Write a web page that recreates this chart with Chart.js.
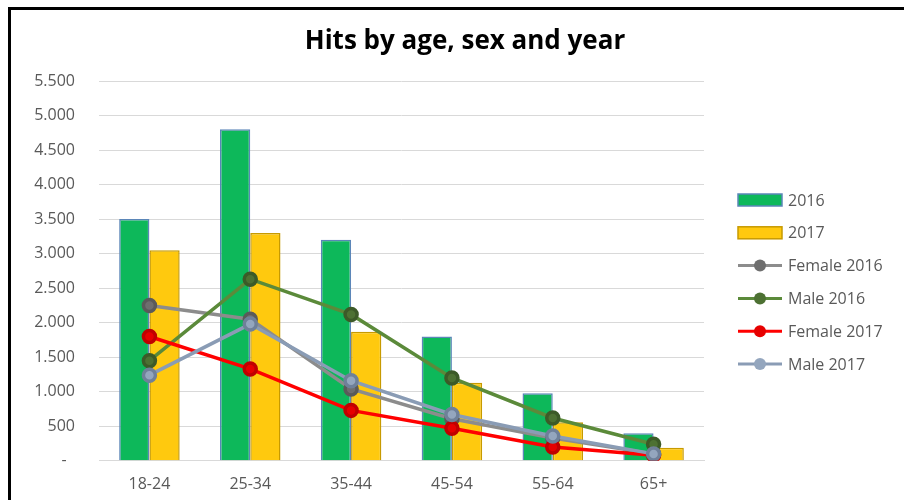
<!DOCTYPE html>
<html>
<head>
<meta charset="utf-8">
<script src="https://cdn.jsdelivr.net/npm/chart.js@4.4.1/dist/chart.umd.min.js"></script>
<style>
  body { margin: 0; background: #fff; overflow: hidden; }
  #moldura { position: absolute; left: 8px; top: 7px; width: 910px; height: 510px; border: 3px solid #000; background: #fff; }
  #grafico { position: absolute; left: 11px; top: 10px; }
</style>
</head>
<body>
<div id="moldura"></div>
<canvas id="grafico" width="893" height="498"></canvas>
<script>
    const faixas = ['18-24', '25-34', '35-44', '45-54', '55-64', '65+'];
    const total_2016 = [3500, 4800, 3200, 1800, 980, 400];
    const total_2017 = [3050, 3300, 1870, 1130, 560, 190];
    const feminino_2016 = [2250, 2050, 1040, 610, 330, 100];
    const masculino_2016 = [1450, 2630, 2120, 1200, 620, 240];
    const feminino_2017 = [1800, 1330, 730, 470, 200, 80];
    const masculino_2017 = [1240, 1980, 1160, 670, 360, 100];
    const ticks_y = [0, 500, 1000, 1500, 2000, 2500, 3000, 3500, 4000, 4500, 5000, 5500];
    const titulo = 'Hits by age, sex and year';

    const fonte = "'Open Sans', 'Liberation Sans', sans-serif";

    // titulo e legenda desenhados na mao
    const legendaManual = {
        id: 'legendaManual',
        afterDraw(chart) {
            const ctx = chart.ctx;
            ctx.save();
            ctx.fillStyle = '#000';
            ctx.font = "bold 26px " + fonte;
            ctx.textAlign = 'center';
            ctx.textBaseline = 'middle';
            ctx.fillText(titulo, 454, 32);
            ctx.restore();

            const x0 = chart.chartArea.right + 34;
            let y = 190;
            chart.data.datasets.forEach(ds => {
                ctx.save();
                if (ds.type === 'bar') {
                    ctx.fillStyle = ds.backgroundColor;
                    ctx.fillRect(x0, y - 6, 44, 12);
                    ctx.strokeStyle = ds.borderColor;
                    ctx.lineWidth = 1.5;
                    ctx.strokeRect(x0, y - 6, 44, 12);
                } else {
                    ctx.strokeStyle = ds.borderColor;
                    ctx.lineWidth = 3;
                    ctx.beginPath();
                    ctx.moveTo(x0, y);
                    ctx.lineTo(x0 + 44, y);
                    ctx.stroke();
                    ctx.fillStyle = ds.pointBackgroundColor;
                    ctx.beginPath();
                    ctx.arc(x0 + 22, y, 6, 0, Math.PI * 2);
                    ctx.fill();
                }
                ctx.fillStyle = '#595959';
                ctx.font = "16px " + fonte;
                ctx.textBaseline = 'middle';
                ctx.fillText(ds.label, x0 + 50, y + 1);
                ctx.restore();
                y += 32.8;
            });
        }
    };

    const ctx_grafico = document.getElementById('grafico');

    new Chart(ctx_grafico, {
        data: {
            labels: faixas,
            datasets: [{
                type: 'bar',
                label: '2016',
                data: total_2016,
                backgroundColor: '#0DB85A',
                borderColor: '#5B86B8',
                borderWidth: 1.5,
                order: 5
            }, {
                type: 'bar',
                label: '2017',
                data: total_2017,
                backgroundColor: '#FFC90E',
                borderColor: '#C79A00',
                borderWidth: 1.5,
                order: 6
            }, {
                type: 'line',
                label: 'Female 2016',
                data: feminino_2016,
                borderColor: '#8C8C8C',
                pointBackgroundColor: '#6E6E6E',
                pointBorderColor: '#5A5A5A',
                borderWidth: 3.5,
                pointRadius: 6,
                order: 4
            }, {
                type: 'line',
                label: 'Male 2016',
                data: masculino_2016,
                borderColor: '#5B8A3A',
                pointBackgroundColor: '#4D7133',
                pointBorderColor: '#3C5A28',
                borderWidth: 3.5,
                pointRadius: 6,
                order: 3
            }, {
                type: 'line',
                label: 'Female 2017',
                data: feminino_2017,
                borderColor: '#FF0000',
                pointBackgroundColor: '#E60000',
                pointBorderColor: '#C00000',
                borderWidth: 3.5,
                pointRadius: 6,
                order: 2
            }, {
                type: 'line',
                label: 'Male 2017',
                data: masculino_2017,
                borderColor: '#8A9CB5',
                pointBackgroundColor: '#94A6BE',
                pointBorderColor: '#6F8099',
                borderWidth: 3.5,
                pointRadius: 6,
                order: 1
            }]
        },
        options: {
            responsive: false,
            animation: false,
            datasets: {
                bar: { barPercentage: 1.0, categoryPercentage: 0.6 }
            },
            layout: { padding: { left: 0, right: 200, top: 71, bottom: 8 } },
            scales: {
                x: {
                    grid: { display: false },
                    border: { display: true, color: '#D9D9D9', width: 1 },
                    ticks: { color: '#595959', font: { family: fonte, size: 16 }, padding: 6 }
                },
                y: {
                    min: 0,
                    max: 5500,
                    afterFit: scale => { scale.width = 88; },
                    afterBuildTicks: scale => { scale.ticks = ticks_y.map(v => ({ value: v })); },
                    grid: { color: '#D9D9D9', lineWidth: 1, drawTicks: false },
                    border: { display: false },
                    ticks: {
                        color: '#595959',
                        font: { family: fonte, size: 16 },
                        padding: 24,
                        callback: v => v === 0 ? '-  ' : v.toLocaleString('de-DE')
                    }
                }
            },
            plugins: {
                legend: { display: false },
                tooltip: { enabled: false },
                title: { display: false }
            }
        },
        plugins: [legendaManual]
    });
</script>
</body>
</html>
